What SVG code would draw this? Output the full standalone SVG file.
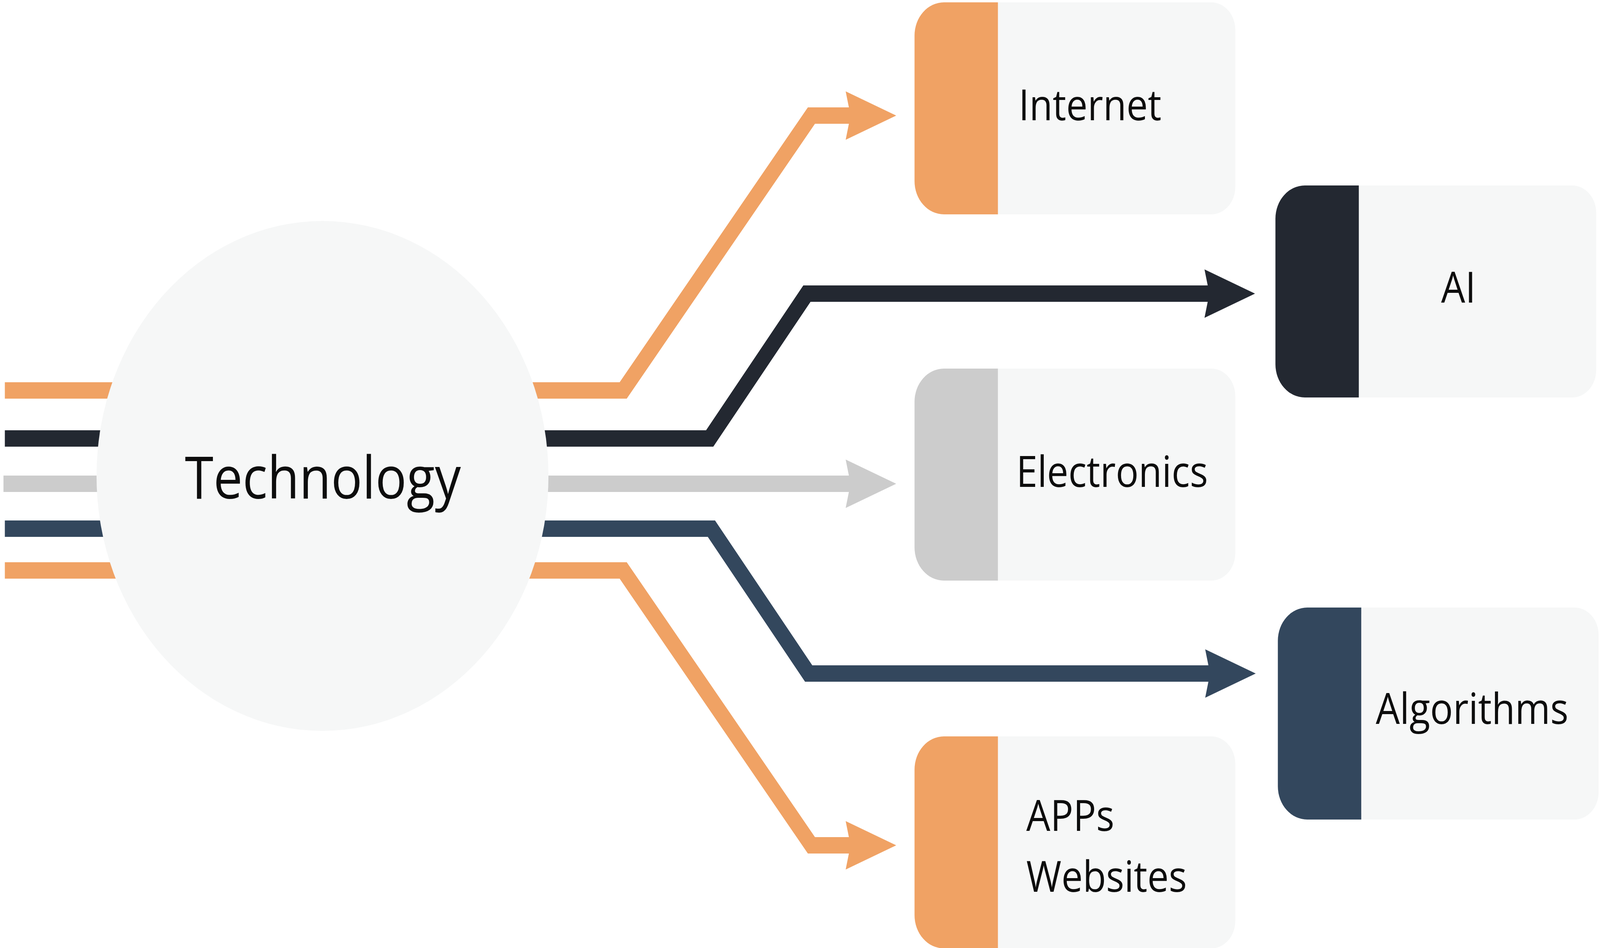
<svg xmlns="http://www.w3.org/2000/svg" width="4624" height="2428" viewBox="0 0 4624 2428" preserveAspectRatio="none" style="width:100vw;height:100vh">
  <style>
    .lbl { font-family: "Open Sans", "Noto Sans", "Liberation Sans", sans-serif; font-size: 110px; fill: #0d0d0d; }
    .big { font-size: 150px; }
    .light { fill: #F6F7F7; }
    .or { fill: #F0A264; }
    .dk { fill: #232831; }
    .gy { fill: #CCCCCC; }
    .nv { fill: #33475D; }
    .ln { fill: none; stroke-width: 42; stroke-linejoin: miter; stroke-linecap: butt; }
  </style>
  <defs>
    <path id="colorPart" d="M241 0 H85 A85 85 0 0 0 0 85 V458 A85 85 0 0 0 85 543 H241 Z"/>
    <path id="lightPart" d="M241 0 H857 A70 70 0 0 1 927 70 V473 A70 70 0 0 1 857 543 H241 Z"/>
    <marker id="ah-or" viewBox="-150 -70 160 140" refX="-125" refY="0" markerWidth="160" markerHeight="140" markerUnits="userSpaceOnUse" orient="auto">
      <path d="M0 0 L-146 -62 L-132 0 L-146 62 Z" fill="#F0A264"/>
    </marker>
    <marker id="ah-dk" viewBox="-150 -70 160 140" refX="-125" refY="0" markerWidth="160" markerHeight="140" markerUnits="userSpaceOnUse" orient="auto">
      <path d="M0 0 L-146 -62 L-132 0 L-146 62 Z" fill="#232831"/>
    </marker>
    <marker id="ah-gy" viewBox="-150 -70 160 140" refX="-125" refY="0" markerWidth="160" markerHeight="140" markerUnits="userSpaceOnUse" orient="auto">
      <path d="M0 0 L-146 -62 L-132 0 L-146 62 Z" fill="#CCCCCC"/>
    </marker>
    <marker id="ah-nv" viewBox="-150 -70 160 140" refX="-125" refY="0" markerWidth="160" markerHeight="140" markerUnits="userSpaceOnUse" orient="auto">
      <path d="M0 0 L-146 -62 L-132 0 L-146 62 Z" fill="#33475D"/>
    </marker>
  </defs>
  <rect width="4624" height="2428" fill="#FFFFFF"/>

  <g id="connectors">
    <path class="ln" stroke="#F0A264" d="M14 1000 H1801 L2345 296 H2465" marker-end="url(#ah-or)"/>
    <path class="ln" stroke="#232831" d="M14 1123 H2051 L2332 752 H3502" marker-end="url(#ah-dk)"/>
    <path class="ln" stroke="#CCCCCC" d="M10 1239 H2465" marker-end="url(#ah-gy)"/>
    <path class="ln" stroke="#33475D" d="M14 1354 H2056 L2337 1725 H3504" marker-end="url(#ah-nv)"/>
    <path class="ln" stroke="#F0A264" d="M14 1461 H1801 L2345 2165 H2465" marker-end="url(#ah-or)"/>
  </g>

  <g id="node-technology">
    <circle cx="932" cy="1219" r="653" fill="#F6F7F7"/>
    <text class="lbl big" x="933" y="1277" text-anchor="middle">Technology</text>
  </g>

  <g id="node-internet" transform="translate(2643 6)">
    <use href="#lightPart" class="light"/>
    <use href="#colorPart" class="or"/>
    <text class="lbl" x="301" y="302">Internet</text>
  </g>

  <g id="node-ai" transform="translate(3686 475)">
    <use href="#lightPart" class="light"/>
    <use href="#colorPart" class="dk"/>
    <text class="lbl" x="529" y="300" text-anchor="middle">AI</text>
  </g>

  <g id="node-electronics" transform="translate(2643 944)">
    <use href="#lightPart" class="light"/>
    <use href="#colorPart" class="gy"/>
    <text class="lbl" x="294" y="303">Electronics</text>
  </g>

  <g id="node-algorithms" transform="translate(3693 1556)">
    <use href="#lightPart" class="light"/>
    <use href="#colorPart" class="nv"/>
    <text class="lbl" x="283" y="298">Algorithms</text>
  </g>

  <g id="node-apps-websites" transform="translate(2643 1886)">
    <use href="#lightPart" class="light"/>
    <use href="#colorPart" class="or"/>
    <text class="lbl" x="323" y="242">APPs</text>
    <text class="lbl" x="323" y="398">Websites</text>
  </g>
</svg>
